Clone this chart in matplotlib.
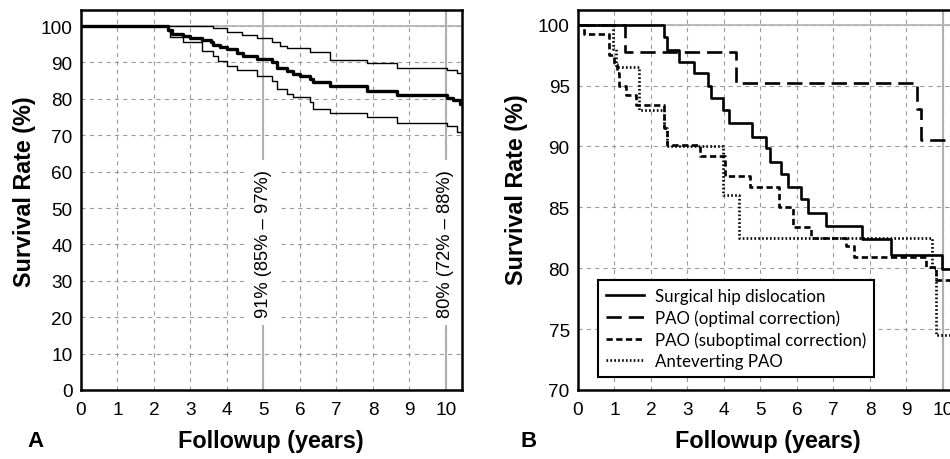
import matplotlib
matplotlib.use('Agg')
import matplotlib.pyplot as plt

plt.rcParams['font.family'] = ['Liberation Sans', 'DejaVu Sans']
plt.rcParams['lines.scale_dashes'] = False

# Panel A: overall survival with 95% confidence band
a_time = [0, 2.38, 2.5, 2.8, 3.0, 3.31, 3.55, 3.63, 3.8, 4.0, 4.27, 4.45, 4.81, 5.22, 5.36,
          5.64, 5.82, 6.0, 6.27, 6.36, 6.82, 7.83, 8.65, 10.02, 10.2, 10.38, 10.44]
a_surv = [100, 99.0, 97.8, 97.2, 96.8, 96.2, 95.5, 94.8, 94.3, 93.7, 92.5, 91.8, 90.9, 90.0, 88.6,
          87.7, 86.8, 86.2, 85.4, 84.5, 83.4, 82.2, 81.0, 80.2, 79.6, 78.6, 78.6]
a_up_time = [0, 3.63, 3.99, 4.4, 4.81, 5.22, 5.45, 5.64, 6.27, 6.82, 7.83, 8.65, 10.02, 10.3, 10.44]
a_up_surv = [100, 99.5, 98.3, 97.6, 96.6, 95.5, 94.6, 93.9, 92.8, 90.8, 89.8, 88.6, 88.0, 87.1, 87.1]
a_lo_time = [0, 2.38, 2.45, 2.8, 3.31, 3.63, 3.75, 3.99, 4.27, 4.81, 5.22, 5.36, 5.64, 5.82,
             6.27, 6.36, 6.82, 7.83, 8.65, 10.02, 10.3, 10.44]
a_lo_surv = [100, 98.5, 96.9, 95.5, 93.2, 91.8, 90.5, 89.1, 88.0, 86.3, 85.0, 82.7, 81.3, 80.4,
             79.0, 77.2, 76.1, 74.9, 73.4, 72.4, 70.8, 70.8]
a_notes = [(5, '91% (85% – 97%)'), (10, '80% (72% – 88%)')]

# Panel B: survival by procedure
b_labels = ['Surgical hip dislocation', 'PAO (optimal correction)',
            'PAO (suboptimal correction)', 'Anteverting PAO']
b_times = [
    [0, 2.36, 2.45, 2.77, 3.18, 3.56, 3.65, 3.96, 4.15, 4.77, 5.16, 5.25, 5.57, 5.75, 6.11,
     6.29, 6.79, 7.79, 8.57, 9.98, 10.44],
    [0, 1.28, 4.34, 9.30, 9.39, 10.44],
    [0, 0.17, 0.86, 0.98, 1.08, 1.13, 1.31, 1.58, 2.36, 2.45, 3.33, 4.02, 4.70, 5.52, 5.88,
     6.38, 7.34, 7.57, 9.53, 9.80, 10.44],
    [0, 0.97, 1.05, 1.68, 2.36, 2.45, 3.97, 4.41, 9.71, 9.82, 10.44],
]
b_survs = [
    [100, 99.0, 97.9, 96.9, 96.0, 95.0, 94.0, 93.0, 91.9, 90.8, 89.9, 88.7, 87.7, 86.7, 85.7,
     84.5, 83.5, 82.4, 81.1, 79.9, 79.9],
    [100, 97.75, 95.2, 93.1, 90.5, 90.5],
    [100, 99.25, 97.5, 96.8, 96.0, 95.0, 94.2, 93.4, 91.5, 90.1, 89.2, 87.6, 86.7, 85.0, 83.4,
     82.5, 81.8, 80.9, 80.1, 79.0, 79.0],
    [100, 98.0, 96.5, 93.0, 91.5, 90.0, 86.0, 82.5, 80.0, 74.5, 74.5],
]
b_dashes = [None, (11, 5), (4.5, 2.5), (1.2, 1.6)]

fig = plt.figure(figsize=(9.5, 4.6), dpi=100)
W, H = 950, 460


def make_axes(left_px):
    return fig.add_axes([left_px / W, (H - 391) / H, 381 / W, 380 / H])


def style_axes(ax, solid_x):
    ax.set_axisbelow(True)
    ax.grid(True, color='#9a9a9a', linestyle=(0, (3, 3)), linewidth=0.8)
    for x in solid_x:
        ax.axvline(x, color='#b0b0b0', linewidth=1.5, zorder=1)
    ax.axhline(100, color='#b0b0b0', linewidth=1.2, zorder=1)
    ax.tick_params(length=0, labelsize=13.7, pad=6)
    ax.tick_params(axis='x', pad=8)
    for sp in ax.spines.values():
        sp.set_linewidth(1.8)
        sp.set_color('black')
        sp.set_zorder(5)


# ---- Panel A
ax1 = make_axes(81)
style_axes(ax1, [5, 10])
ax1.step(a_up_time, a_up_surv, where='post', color='black', linewidth=1.0, zorder=3)
ax1.step(a_lo_time, a_lo_surv, where='post', color='black', linewidth=1.0, zorder=3)
ax1.step(a_time, a_surv, where='post', color='black', linewidth=2.4, zorder=4)
for x, txt in a_notes:
    ax1.text(x, 40.5, txt, rotation=90, ha='center', va='center', fontsize=13.2, zorder=4,
             bbox=dict(facecolor='white', edgecolor='none', pad=6))
ax1.set_xlim(0, 10.44)
ax1.set_ylim(0, 104.4)
ax1.set_xticks(range(0, 11))
ax1.set_yticks(range(0, 101, 10))

# ---- Panel B
ax2 = make_axes(578)
style_axes(ax2, [10])
for t, s, lab, d in zip(b_times, b_survs, b_labels, b_dashes):
    line, = ax2.step(t, s, where='post', color='black', linewidth=1.9, label=lab, zorder=3)
    if d is not None:
        line.set_dashes(d)
ax2.set_xlim(0, 10.44)
ax2.set_ylim(70, 101.2)
ax2.set_xticks(range(0, 11))
ax2.set_yticks(range(70, 101, 5))
leg = ax2.legend(loc='lower left', bbox_to_anchor=(0.0525, 0.034), borderaxespad=0,
                 fancybox=False, framealpha=1, edgecolor='black', handlelength=2.2,
                 handletextpad=0.65, prop={'family': 'Lato', 'size': 12.2},
                 borderpad=0.5, labelspacing=0.3)
leg.get_frame().set_linewidth(1.5)
leg.set_zorder(6)

# ---- labels
lab_font = dict(fontsize=16.8, fontweight='bold')
fig.text(271 / W, 1 - 442 / H, 'Followup (years)', ha='center', va='center', **lab_font)
fig.text(768 / W, 1 - 442 / H, 'Followup (years)', ha='center', va='center', **lab_font)
fig.text(25 / W, 1 - 192 / H, 'Survival Rate (%)', rotation=90, ha='center', va='center', **lab_font)
fig.text(517 / W, 1 - 190 / H, 'Survival Rate (%)', rotation=90, ha='center', va='center', **lab_font)
fig.text(35 / W, 1 - 442 / H, 'A', ha='center', va='center', fontsize=16, fontweight='bold')
fig.text(529 / W, 1 - 442 / H, 'B', ha='center', va='center', fontsize=16, fontweight='bold')

fig.savefig('out.png', dpi=100)
